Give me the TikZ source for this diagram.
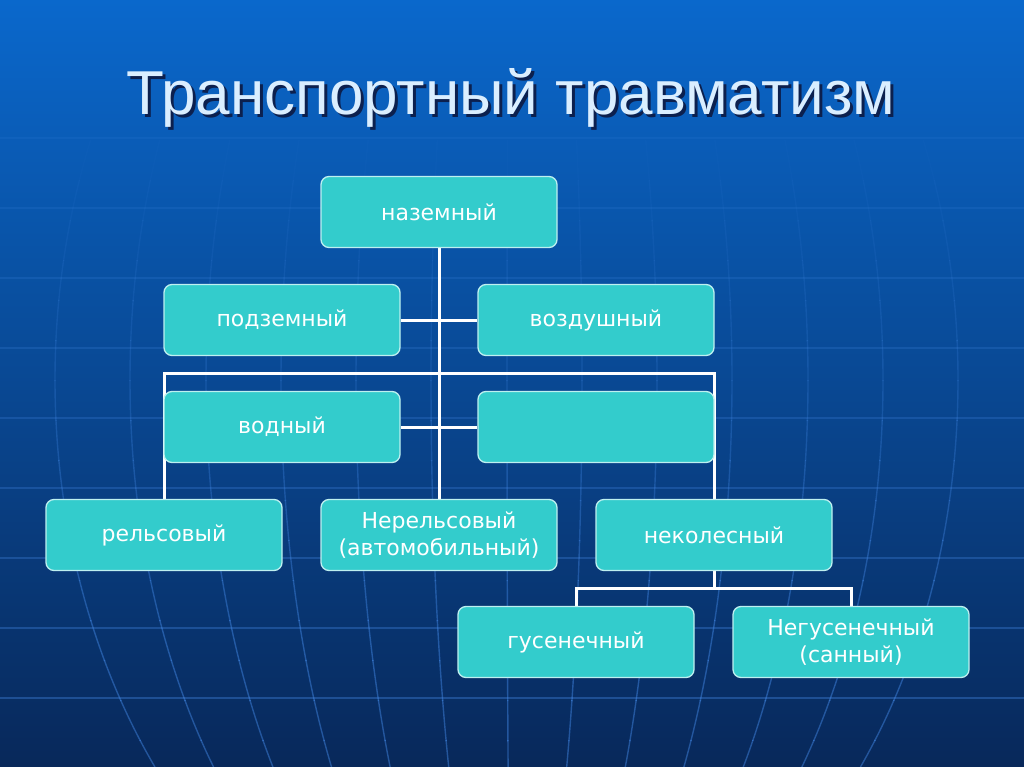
\documentclass[tikz,border=0pt]{standalone}
\usepackage{fontspec}
\setmainfont{DejaVu Sans}
\newfontfamily\titlefont{Liberation Sans}
\definecolor{bgtop}{RGB}{10,104,204}
\definecolor{bgbot}{RGB}{8,40,90}
\definecolor{gridc}{RGB}{70,140,235}
\definecolor{boxfill}{RGB}{51,204,204}
\definecolor{boxedge}{RGB}{190,240,240}
\definecolor{titlec}{RGB}{218,238,255}
\definecolor{shadowc}{RGB}{12,32,78}
\pgfdeclarelayer{backlayer}
\pgfdeclarelayer{linklayer}
\pgfsetlayers{backlayer,linklayer,main}
\newcommand{\shadowtitle}[1]{\makebox[0pt][l]{\kern3pt\raisebox{-3pt}{\color{shadowc}#1}}\color{titlec}#1}
\begin{document}
\begin{tikzpicture}[x=1pt,y=-1pt,
  gridline/.style={draw=gridc, line width=1.4pt},
  box/.style={draw=boxedge, line width=1.3pt, fill=boxfill, rounded corners=8pt,
    minimum width=236pt, minimum height=71pt, inner sep=2pt, align=center,
    text=white, font=\fontsize{22}{27}\selectfont},
  link/.style={draw=white, line width=3pt},
  titletext/.style={anchor=base, font=\titlefont\fontsize{62}{66}\selectfont}]
\useasboundingbox (0,0) rectangle (1024,767);
\begin{pgfonlayer}{backlayer}
\shade[top color=bgtop, bottom color=bgbot] (0,0) rectangle (1024,767);
\foreach \yy in {138,208,...,698}{
  \pgfmathsetmacro\op{0.05+0.34*\yy/767}
  \draw[gridline, opacity=\op] (0,\yy) -- (1024,\yy);}
\foreach \m in {55,130,206,281,356,431,507,582,657,732,808,883,958}{
  \foreach \a in {100,140,...,740}{
    \pgfmathsetmacro\op{max(0,min(0.45,0.45*(\a-100)/520))}
    \pgfmathsetmacro\b{min(767,\a+41)}
    \draw[gridline, opacity=\op, line cap=butt] plot[smooth, domain=\a:\b, samples=6]
      ({512+(\m-512)*sqrt(1-((\x-380)/620)^2)}, \x);}}
\end{pgfonlayer}
% title
\node[titletext] (title) at (511,115) {\shadowtitle{Транспортный травматизм}};
% nodes
\path
  (439,212) node[box] (nazem) {наземный}
  (282,320) node[box] (podz) {подземный}
  (596,320) node[box] (vozd) {воздушный}
  (282,427) node[box] (vodn) {водный}
  (596,427) node[box] (blank) {}
  (164,535) node[box] (rels) {рельсовый}
  (439,535) node[box] (nerels) {Нерельсовый\\(автомобильный)}
  (714,535) node[box] (nekol) {неколесный}
  (576,642) node[box] (gus) {гусенечный}
  (851,642) node[box] (negus) {Негусенечный\\(санный)};
% connectors
\begin{pgfonlayer}{linklayer}
\coordinate (barl) at (rels.north |- 0,373);
\coordinate (barr) at (nekol.north |- 0,373);
\coordinate (botbar) at (nekol.south |- 0,588);
\draw[link] (nazem.south) -- (nerels.north);
\draw[link] (podz.east) -- (vozd.west);
\draw[link] (vodn.east) -- (blank.west);
\draw[link] (rels.north) -- (barl) -- (barr) -- (nekol.north);
\draw[link] (nekol.south) -- (botbar);
\draw[link] (gus.north) |- (botbar) -| (negus.north);
\end{pgfonlayer}
\end{tikzpicture}
\end{document}
